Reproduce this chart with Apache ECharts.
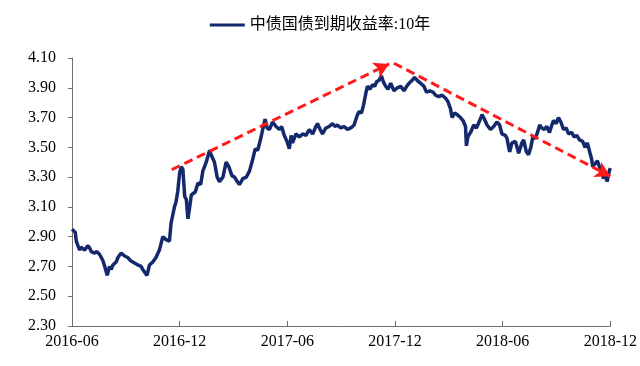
<!DOCTYPE html>
<html>
<head>
<meta charset="utf-8">
<script src="https://cdn.jsdelivr.net/npm/echarts@6/dist/echarts.min.js"></script>
<style>html,body{margin:0;padding:0;background:#fff}#c{width:640px;height:366px}</style>
</head>
<body>
<div id="c"></div>
<script>
// x positions: months since 2016-06
var seriesName = '中债国债到期收益率:10年';
var tickLabels = ['2016-06', '2016-12', '2017-06', '2017-12', '2018-06', '2018-12'];
var monthOffsets = [0,0.08,0.18,0.24,0.33,0.43,0.5,0.61,0.71,0.78,0.89,1.0,1.07,1.26,1.39,1.54,1.64,1.72,1.85,1.96,
2.09,2.19,2.28,2.46,2.56,2.74,2.83,2.93,3.11,3.25,3.39,3.53,3.67,3.85,3.94,4.04,4.18,4.32,4.5,4.68,
4.87,5.06,5.24,5.43,5.52,5.71,5.79,5.89,6.0,6.09,6.18,6.28,6.37,6.46,6.56,6.65,6.74,6.87,7.02,7.17,
7.29,7.48,7.67,7.79,7.94,8.09,8.22,8.41,8.59,8.74,8.91,9.06,9.21,9.33,9.52,9.71,9.89,10.07,10.21,10.35,
10.5,10.63,10.76,10.87,11.0,11.18,11.37,11.56,11.68,11.83,11.98,12.11,12.21,12.29,12.48,12.67,12.85,13.04,13.22,13.41,
13.59,13.68,13.83,13.96,14.15,14.33,14.52,14.65,14.79,14.98,15.17,15.35,15.54,15.72,15.91,16.0,16.13,16.24,16.37,16.46,
16.61,16.74,16.87,16.98,17.11,17.24,17.35,17.48,17.61,17.76,17.94,18.13,18.32,18.5,18.65,18.78,18.96,19.09,19.24,19.43,
19.61,19.76,19.94,20.13,20.26,20.44,20.63,20.82,20.94,21.09,21.18,21.32,21.46,21.65,21.79,21.93,21.98,22.06,22.21,22.39,
22.54,22.72,22.85,22.98,23.13,23.32,23.5,23.68,23.83,23.96,24.15,24.24,24.39,24.52,24.71,24.89,25.07,25.17,25.32,25.44,
25.57,25.68,25.82,25.94,26.06,26.18,26.32,26.46,26.61,26.74,26.83,26.98,27.11,27.24,27.39,27.54,27.67,27.85,27.98,28.13,
28.28,28.46,28.59,28.72,28.87,28.96,29.02,29.15,29.28,29.39,29.52,29.61,29.71,29.82,29.94,30.0];
var yields = [2.95,2.94,2.93,2.87,2.84,2.81,2.83,2.84,2.81,2.82,2.84,2.82,2.80,2.79,2.80,2.78,2.77,2.74,2.69,2.64,
2.70,2.68,2.71,2.73,2.76,2.79,2.78,2.77,2.76,2.74,2.73,2.72,2.71,2.70,2.68,2.69,2.64,2.71,2.73,2.76,
2.81,2.90,2.88,2.87,2.99,3.10,3.13,3.20,3.33,3.37,3.35,3.17,3.15,3.02,3.10,3.18,3.17,3.20,3.26,3.25,
3.34,3.40,3.48,3.44,3.40,3.30,3.27,3.30,3.40,3.37,3.31,3.30,3.27,3.25,3.29,3.30,3.34,3.42,3.49,3.48,
3.55,3.62,3.69,3.63,3.62,3.67,3.64,3.62,3.64,3.58,3.54,3.49,3.58,3.53,3.59,3.57,3.59,3.58,3.62,3.59,
3.64,3.66,3.62,3.59,3.63,3.64,3.66,3.64,3.65,3.63,3.64,3.62,3.63,3.65,3.72,3.74,3.73,3.78,3.86,3.91,
3.89,3.92,3.91,3.94,3.95,3.98,3.94,3.91,3.89,3.93,3.88,3.90,3.91,3.88,3.91,3.93,3.95,3.97,3.95,3.93,
3.91,3.87,3.88,3.87,3.85,3.84,3.85,3.83,3.81,3.76,3.70,3.73,3.72,3.70,3.68,3.64,3.51,3.57,3.60,3.65,
3.63,3.68,3.72,3.69,3.65,3.62,3.64,3.67,3.65,3.59,3.58,3.56,3.47,3.53,3.54,3.46,3.53,3.55,3.47,3.45,
3.50,3.57,3.56,3.60,3.65,3.63,3.62,3.64,3.60,3.65,3.68,3.66,3.70,3.67,3.62,3.63,3.59,3.60,3.57,3.58,
3.55,3.54,3.50,3.53,3.46,3.42,3.37,3.39,3.41,3.37,3.35,3.29,3.32,3.27,3.34,3.36];
// trend arrows (month offset, yield)
var upStart = [5.56, 3.35];
var upEnd = [17.67, 4.06];
var downStart = [17.94, 4.065];
var downEnd = [30.0, 3.305];

var points = monthOffsets.map(function (m, i) { return [m, yields[i]]; });
var serif = '"Liberation Serif", "Times New Roman", "Noto Sans CJK SC", serif';
var chart = echarts.init(document.getElementById('c'));
chart.setOption({
  animation: false,
  legend: {
    top: 12, left: 'center',
    icon: 'rect', itemWidth: 35, itemHeight: 3, itemGap: 10,
    textStyle: { fontFamily: serif, fontSize: 16, color: '#000' },
    data: [seriesName]
  },
  grid: { left: 72, right: 28, top: 58, bottom: 40 },
  xAxis: {
    type: 'value', min: 0, max: 30, interval: 6,
    axisLine: { lineStyle: { color: '#6f6f6f', width: 1 } },
    axisTick: { inside: true, length: 5, lineStyle: { color: '#6f6f6f' } },
    splitLine: { show: false },
    axisLabel: {
      fontFamily: serif, fontSize: 16, color: '#000', margin: 8,
      formatter: function (v) { return tickLabels[Math.round(v / 6)] || ''; }
    }
  },
  yAxis: {
    type: 'value', min: 2.3, max: 4.1, interval: 0.2,
    axisLine: { show: true, lineStyle: { color: '#6f6f6f', width: 1 } },
    axisTick: { show: true, length: 4, lineStyle: { color: '#6f6f6f' } },
    splitLine: { show: false },
    axisLabel: {
      fontFamily: serif, fontSize: 16, color: '#000', margin: 16,
      formatter: function (v) { return v.toFixed(2); }
    }
  },
  series: [{
    name: seriesName, type: 'line', data: points,
    showSymbol: false, clip: false,
    lineStyle: { color: '#13296b', width: 3.5 },
    itemStyle: { color: '#13296b' },
    emphasis: { disabled: true },
    markLine: {
      silent: true, animation: false,
      symbol: ['none', 'arrow'], symbolSize: [13, 15],
      label: { show: false },
      lineStyle: { color: '#ff1a1a', width: 3, type: [9, 5] },
      itemStyle: { color: '#ff1a1a' },
      emphasis: { disabled: true },
      data: [
        [{ coord: upStart }, { coord: upEnd }],
        [{ coord: downStart }, { coord: downEnd }]
      ]
    }
  }]
});
</script>
</body>
</html>
